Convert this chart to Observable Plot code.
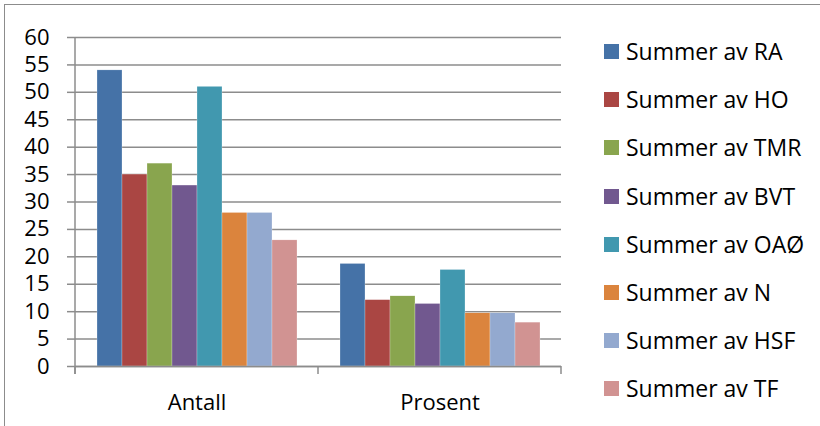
<!DOCTYPE html>
<html>
<head>
<meta charset="utf-8">
<script src="https://cdn.jsdelivr.net/npm/d3@7"></script>
<script src="https://cdn.jsdelivr.net/npm/@observablehq/plot@0.6"></script>
<style>
  html, body { margin: 0; padding: 0; background: #fff; }
  #wrap { position: relative; width: 820px; height: 426px; overflow: hidden; font-family: "Open Sans", sans-serif; }
  #border { position: absolute; left: 4px; top: 4px; width: 840px; height: 450px; border: 1.5px solid #8c8c8c; box-sizing: border-box; }
  #chart { position: absolute; left: 0; top: 0; }
  #legend { position: absolute; left: 604px; top: 27.4px; }
  .item { display: flex; align-items: center; height: 48.2px; }
  .sw { width: 15px; height: 15px; margin-right: 7px; flex: none; }
  .lab { font-size: 23px; color: #000; white-space: nowrap; line-height: 1; }
</style>
</head>
<body>
<div id="wrap">
  <div id="border"></div>
  <div id="chart"></div>
  <div id="legend"></div>
</div>
<script>
const categories = ["Antall", "Prosent"];
const seriesNames = ["Summer av RA", "Summer av HO", "Summer av TMR", "Summer av BVT", "Summer av OAØ", "Summer av N", "Summer av HSF", "Summer av TF"];
const antall = [54, 35, 37, 33, 51, 28, 28, 23];
const prosent = [18.7, 12.1, 12.8, 11.4, 17.6, 9.7, 9.7, 8.0];
const colors = ["#4572A7", "#AA4643", "#89A54E", "#71588F", "#4198AF", "#DB843D", "#93A9CF", "#D19392"];
const yTicks = [0, 5, 10, 15, 20, 25, 30, 35, 40, 45, 50, 55, 60];

const data = [];
seriesNames.forEach((s, i) => {
  data.push({cat: categories[0], series: s, value: antall[i]});
  data.push({cat: categories[1], series: s, value: prosent[i]});
});

const gridColor = "#8c8c8c";

const chart = Plot.plot({
  width: 590,
  height: 426,
  marginLeft: 74,
  marginRight: 29,
  marginTop: 37,
  marginBottom: 60,
  style: {fontFamily: "Open Sans, sans-serif", fontSize: "22px", color: "#000", background: "transparent"},
  fx: {domain: categories, paddingInner: 0, paddingOuter: 0, label: null},
  x: {domain: seriesNames, paddingInner: 0, paddingOuter: 0.72, axis: null},
  y: {domain: [0, 60], ticks: yTicks, label: null},
  color: {domain: seriesNames, range: colors},
  marks: [
    Plot.gridY(yTicks, {stroke: gridColor, strokeOpacity: 1, strokeWidth: 1.5}),
    Plot.barY(data, {fx: "cat", x: "series", y: "value", fill: "series", stroke: "#fff", strokeWidth: 0.4, strokeOpacity: 0.6}),
    Plot.axisY(yTicks, {tickSize: 8, tickPadding: 18, stroke: gridColor, strokeWidth: 1.5, fontSize: 22, label: null}),
    Plot.axisFx({anchor: "bottom", tickSize: 0, tickPadding: 28, fontSize: 22, label: null}),
    Plot.ruleY([0], {stroke: gridColor, strokeWidth: 1.5})
  ]
});
document.getElementById("chart").appendChild(chart);

// Axis line and category boundary ticks, positioned through Plot's own scales
const fx = chart.scale("fx");
const yS = chart.scale("y");
const svg = d3.select(chart);
const y0 = yS.apply(0), yTop = yS.apply(60);
const bounds = [];
categories.forEach(c => { bounds.push(fx.apply(c)); });
bounds.push(fx.apply(categories[categories.length - 1]) + fx.bandwidth);
const g = svg.append("g").attr("stroke", gridColor).attr("stroke-width", 1.5);
g.append("line").attr("x1", bounds[0]).attr("x2", bounds[0]).attr("y1", yTop).attr("y2", y0 + 8);
bounds.forEach(b => {
  g.append("line").attr("x1", b).attr("x2", b).attr("y1", y0).attr("y2", y0 + 8);
});

const legend = d3.select("#legend");
seriesNames.forEach((s, i) => {
  const it = legend.append("div").attr("class", "item");
  it.append("div").attr("class", "sw").style("background", colors[i]);
  it.append("div").attr("class", "lab").text(s);
});
</script>
</body>
</html>
